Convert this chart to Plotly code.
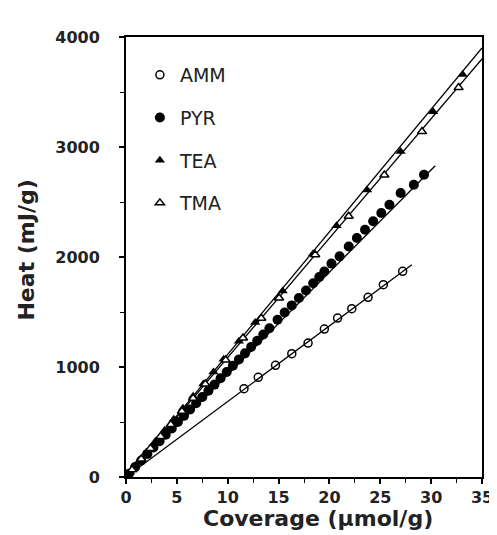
import plotly.graph_objects as go

# ---- data ----
AMM_x = [11.6, 13.0, 14.7, 16.3, 17.9, 19.5, 20.8, 22.2, 23.8, 25.3, 27.2]
AMM_y = [803, 906, 1015, 1121, 1218, 1345, 1445, 1530, 1633, 1748, 1870]

PYR_x = [0.0, 0.3, 0.9, 1.5, 2.1, 2.7, 3.3, 3.9, 4.5, 5.1, 5.7, 6.3, 6.9, 7.5, 8.1, 8.7,
         9.3, 9.9, 10.5, 11.1, 11.7, 12.3, 12.9, 13.5, 14.1, 14.9, 15.6, 16.3, 17.0,
         17.7, 18.4, 19.0, 19.5, 20.2, 21.0, 21.9, 22.7, 23.5, 24.3, 25.1, 25.9, 27.0,
         28.3, 29.3]
PYR_y = [0, 30, 90, 150, 210, 268, 326, 385, 442, 500, 556, 614, 670, 727, 784, 840,
         898, 955, 1012, 1068, 1124, 1182, 1238, 1295, 1352, 1430, 1495, 1560, 1628,
         1695, 1762, 1818, 1868, 1940, 2006, 2095, 2172, 2248, 2325, 2400, 2475, 2582,
         2657, 2748]

TEA_x = [0.4, 1.2, 2.0, 2.9, 3.8, 4.7, 5.6, 6.6, 7.6, 8.6, 9.6, 11.1, 12.7, 15.4,
         18.4, 20.7, 23.7, 27.0, 30.2, 33.1]
TEA_y = [45, 135, 225, 325, 425, 525, 625, 735, 845, 955, 1070, 1235, 1405, 1690,
         2030, 2285, 2610, 2960, 3320, 3660]

TMA_x = [0.6, 1.5, 2.4, 3.4, 4.4, 5.5, 6.6, 7.8, 9.8, 11.5, 13.3, 15.05, 18.6, 21.9,
         25.4, 29.1, 32.7]
TMA_y = [65, 163, 260, 369, 477, 597, 716, 846, 1063, 1264, 1443, 1627, 2021, 2370,
         2745, 3140, 3540]

# fitted lines (start/end points of each straight fit)
FIT_AMM_x, FIT_AMM_y = [0, 28.1], [0, 1930]
FIT_PYR_x, FIT_PYR_y = [0, 30.4], [0, 2830]
FIT_TEA_x, FIT_TEA_y = [0, 35], [0, 3900]
FIT_TMA_x, FIT_TMA_y = [0, 35], [0, 3800]

X_TITLE = "Coverage (μmol/g)"
Y_TITLE = "Heat (mJ/g)"

FONT = "DejaVu Sans, Liberation Sans, Arial, sans-serif"

fig = go.Figure()

for fx, fy in [(FIT_AMM_x, FIT_AMM_y), (FIT_PYR_x, FIT_PYR_y),
               (FIT_TEA_x, FIT_TEA_y), (FIT_TMA_x, FIT_TMA_y)]:
    fig.add_trace(go.Scatter(x=fx, y=fy, mode="lines",
                             line=dict(color="black", width=1.3),
                             showlegend=False, hoverinfo="skip"))

series = [
    ("AMM", AMM_x, AMM_y, dict(symbol="circle-open", size=8, color="black",
                               line=dict(width=1.5, color="black"))),
    ("PYR", PYR_x, PYR_y, dict(symbol="circle", size=10, color="black")),
    ("TEA", TEA_x, TEA_y, dict(symbol="triangle-up", size=9, color="black")),
    ("TMA", TMA_x, TMA_y, dict(symbol="triangle-up", size=8, color="white",
                               line=dict(width=1.5, color="black"))),
]
for name, xs, ys, mk in series:
    fig.add_trace(go.Scatter(x=xs, y=ys, mode="markers", name=name, marker=mk,
                             legendgroup=name))

fig.update_layout(
    width=497, height=535,
    margin=dict(l=118, r=14, t=29, b=66),
    paper_bgcolor="white", plot_bgcolor="white",
    font=dict(family=FONT, color="black"),
    legend=dict(x=0.039, y=0.957, xanchor="left", yanchor="top",
                font=dict(size=19, color="#222"), tracegroupgap=15,
                bgcolor="rgba(0,0,0,0)", itemsizing="trace"),
    showlegend=True,
    annotations=[
        dict(text=X_TITLE, xref="paper", yref="paper", x=(315 - 118) / 365, y=-0.095,
             xanchor="center", yanchor="middle", showarrow=False,
             font=dict(size=22, weight="bold", color="#222")),
        dict(text=Y_TITLE, xref="paper", yref="paper", x=(15 - 118) / 365,
             y=(469 - 242) / 440, xanchor="center", yanchor="middle", showarrow=False,
             textangle=-90, font=dict(size=22, weight="bold", color="#222")),
    ],
)
fig.update_xaxes(
    range=[0, 35], tickvals=[0, 5, 10, 15, 20, 25, 30, 35],
    ticks="outside", ticklen=5, tickwidth=1.5, tickcolor="black",
    minor=dict(dtick=2.5, ticks="outside", ticklen=4, tickwidth=1.2, tickcolor="black"),
    showline=True, linecolor="black", linewidth=2, mirror=True,
    showgrid=False, zeroline=False,
    tickfont=dict(size=16, weight="bold", color="#222"),
)
fig.update_yaxes(
    range=[0, 4000], tickvals=[0, 1000, 2000, 3000, 4000],
    ticks="outside", ticklen=5, tickwidth=1.5, tickcolor="black",
    minor=dict(dtick=500, ticks="outside", ticklen=4, tickwidth=1.2, tickcolor="black"),
    showline=True, linecolor="black", linewidth=2, mirror=True,
    showgrid=False, zeroline=False,
    ticklabelstandoff=16,
    tickfont=dict(size=16, weight="bold", color="#222"),
)

fig.write_html("out.html")
